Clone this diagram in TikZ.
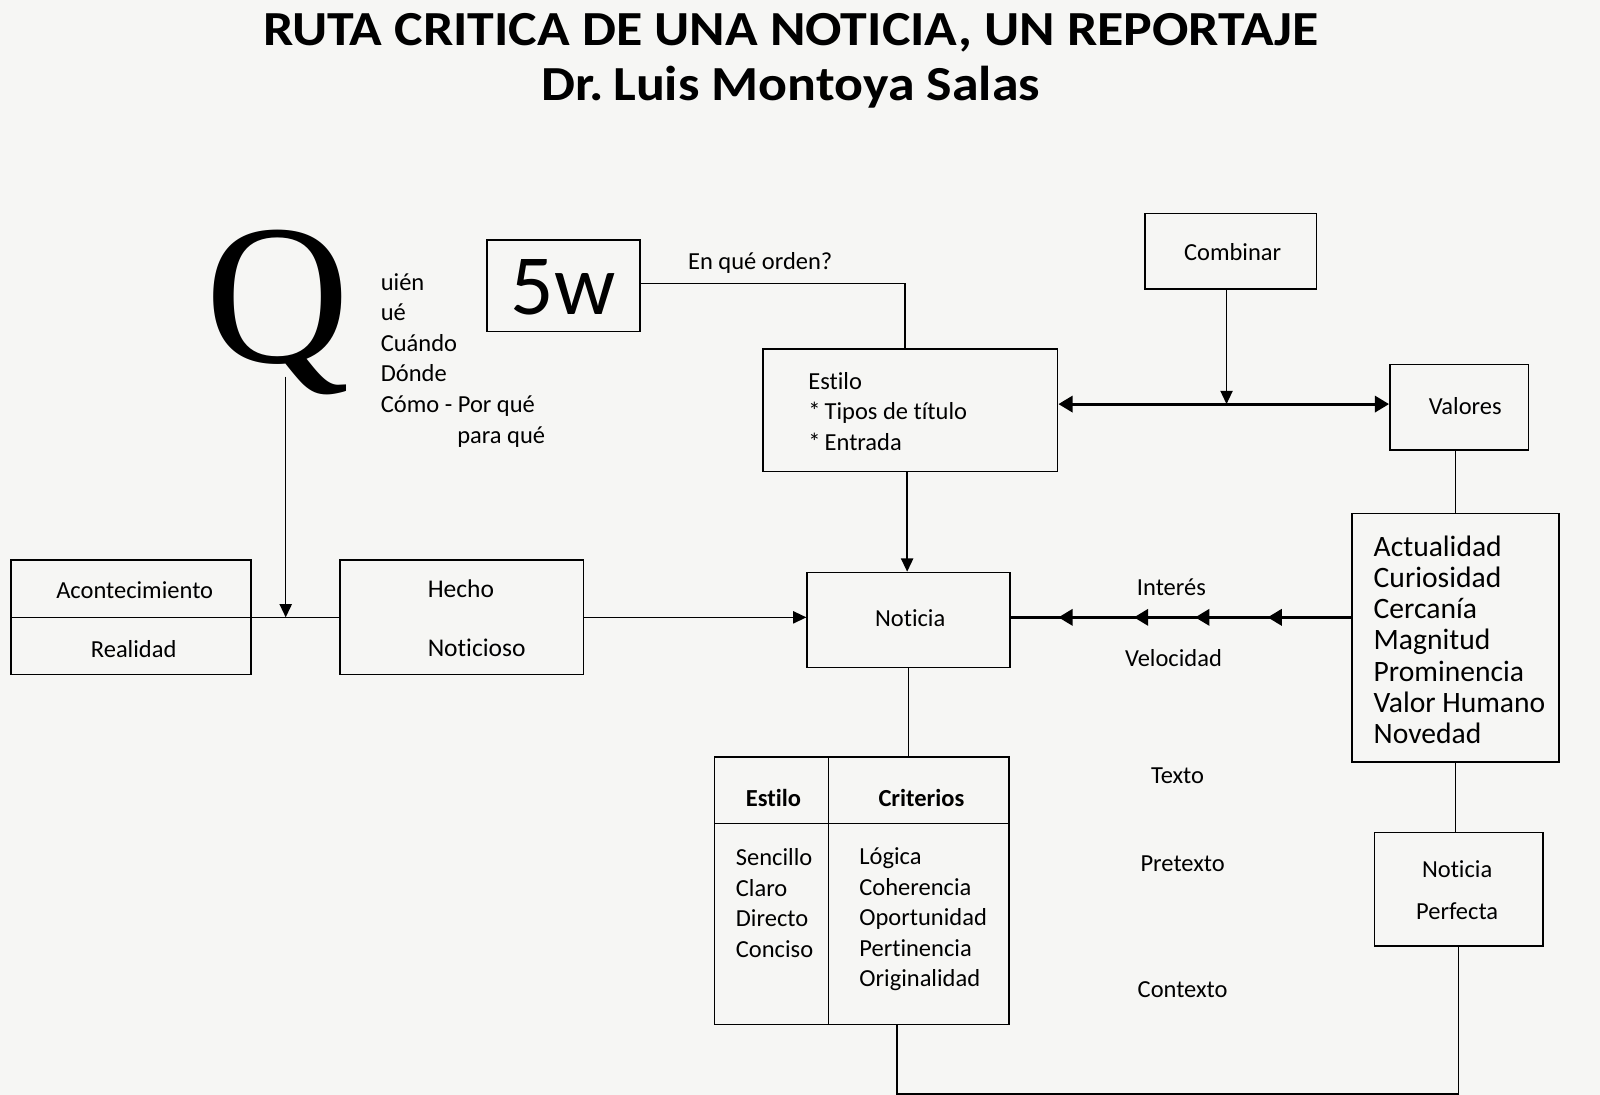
\documentclass[tikz,border=0pt]{standalone}
\usepackage{fontspec}
\setmainfont{Carlito}[Ligatures=NoCommon]
\newfontfamily\qfont{Liberation Serif}
\usetikzlibrary{arrows.meta,decorations.markings}
\definecolor{paper}{RGB}{246,246,244}
\tikzset{
  box/.style={draw, line width=1.5pt, inner sep=0pt},
  txt/.style={inner sep=0pt, font=\fontsize{24}{30}\selectfont},
  titlefont/.style={inner sep=0pt, font=\bfseries\fontsize{48}{48}\selectfont},
  conn/.style={line width=1.4pt},
  heavy/.style={line width=2.8pt},
  tip/.style={-{Triangle[length=13pt,width=12pt]}},
  bigtip/.tip={Triangle[length=14pt,width=16pt]},
}
\begin{document}
\begin{tikzpicture}[x=1pt,y=-1pt]
\fill[paper] (0,0) rectangle (1568,1073);
\useasboundingbox (0,0) rectangle (1568,1073);

% title
\node[titlefont] (t1) at (775,32) {\scalebox{1.1}[1]{RUTA CRITICA DE UNA NOTICIA, UN REPORTAJE}};
\node[titlefont] (t2) at (775,85) {\scalebox{1.1}[1]{Dr.\,Luis Montoya Salas}};

% Q block
\node[inner sep=0pt, font=\qfont\fontsize{196}{196}\selectfont, anchor=base] (qbig) at (272,355) {Q};
\node[txt, align=left, anchor=west] (qlist) at (373,353) {uién\\ué\\Cuándo\\Dónde\\Cómo - Por qué\\\hspace*{75pt}para qué};

% 5w
\node[box, minimum width=150pt, minimum height=90pt] (w5) at (552,280) {};
\node[inner sep=0pt, font=\fontsize{84}{84}\selectfont] (w5t) at (552,282) {5w};
\node[txt] (orden) at (745,258) {En qué orden?};

% Estilo box
\node[box, minimum width=289pt, minimum height=120pt] (est) at (892,402) {};
\node[txt, align=left, anchor=west] (estt) at (792,403) {Estilo\\*\,Tipos de título\\*\,Entrada};

% Combinar
\node[box, minimum width=168pt, minimum height=74pt] (comb) at (1206,246) {};
\node[txt] (combt) at (1208,247) {Combinar};

% Valores
\node[box, minimum width=136pt, minimum height=84pt] (val) at (1430,399) {};
\node[txt] (valt) at (1436,398) {Valores};

% values list
\node[box, minimum width=203pt, minimum height=244pt] (vals) at (1426.5,625) {};
\node[inner sep=0pt, font=\fontsize{29}{30.5}\selectfont, align=left, anchor=west] (valst) at (1346,627) {Actualidad\\Curiosidad\\Cercanía\\Magnitud\\Prominencia\\Valor Humano\\Novedad};

% Noticia Perfecta
\node[box, minimum width=165pt, minimum height=111pt] (np) at (1429.5,871.5) {};
\node[inner sep=0pt, font=\fontsize{24}{41}\selectfont, align=center] (npt) at (1428,872) {Noticia\\Perfecta};

% Acontecimiento / Realidad
\node[box, minimum width=235pt, minimum height=112pt] (acon) at (128.5,605) {};
\draw[conn] (acon.west) -- (acon.east);
\node[txt] (acont) at (132,578) {Acontecimiento};
\node[txt] (realt) at (131,636) {Realidad};

% Hecho Noticioso
\node[box, minimum width=239pt, minimum height=112pt] (hecho) at (452.5,605) {};
\node[inner sep=0pt, font=\fontsize{25}{58}\selectfont, align=left, anchor=west] (hechot) at (419,606) {Hecho\\Noticioso};

% Noticia
\node[box, minimum width=199pt, minimum height=93pt] (noticia) at (890.5,607.5) {};
\node[txt] (noticiat) at (892,606) {Noticia};

% table Estilo / Criterios
\node[box, minimum width=289pt, minimum height=262pt] (tab) at (844.5,873) {};
\draw[box] (812,742) -- (812,1004);
\draw[box] (700,807) -- (989,807);
\node[txt, font=\bfseries\fontsize{24}{30}\selectfont] (tabh1) at (758,782) {Estilo};
\node[txt, font=\bfseries\fontsize{24}{30}\selectfont] (tabh2) at (903,782) {Criterios};
\node[txt, align=left, anchor=west] (tabc1) at (721,885) {Sencillo\\Claro\\Directo\\Conciso};
\node[txt, align=left, anchor=west] (tabc2) at (842,901) {Lógica\\Coherencia\\Oportunidad\\Pertinencia\\Originalidad};

% free labels
\node[txt] (interes) at (1148,575) {Interés};
\node[txt] (veloc) at (1150,645) {Velocidad};
\node[txt] (texto) at (1154,760) {Texto};
\node[txt] (pretexto) at (1159,846) {Pretexto};
\node[txt] (contexto) at (1159,970) {Contexto};

% helper coordinates
\coordinate (hy) at (0,396);
\coordinate (iy) at (0,605);
\coordinate (by) at (0,1072);
\coordinate (qstart) at (280,369);

% connectors
\draw[conn,tip] (qstart) -- (qstart |- acon.east);
\draw[conn] (acon.east) -- (hecho.west);
\draw[conn,tip] (hecho.east) -- (hecho.east -| noticia.west);
\draw[conn] ([yshift=2pt]w5.east) -| ([xshift=-5pt]est.north);
\draw[conn,tip] ([xshift=-3pt]est.south) -- ([xshift=-3pt]est.south |- noticia.north);
\draw[heavy, bigtip-bigtip] (est.east |- hy) -- (val.west |- hy);
\draw[conn,tip] ([xshift=-4pt]comb.south) -- ([xshift=-4pt]comb.south |- hy);
\draw[conn] (vals.north) -- (vals.north |- val.south);
\draw[heavy, postaction={decorate}, decoration={markings,
   mark=at position 82pt with {\arrow{bigtip}},
   mark=at position 153pt with {\arrow{bigtip}},
   mark=at position 213pt with {\arrow{bigtip}},
   mark=at position 287pt with {\arrow{bigtip}}}]
   (vals.west |- iy) -- (noticia.east |- iy);
\draw[conn] (noticia.south) -- (noticia.south |- tab.north);
\draw[conn] (vals.south) -- (vals.south |- np.north);
\draw[conn] (np.south) -- (np.south |- by) -| ([xshift=34.5pt]tab.south);
\end{tikzpicture}
\end{document}
